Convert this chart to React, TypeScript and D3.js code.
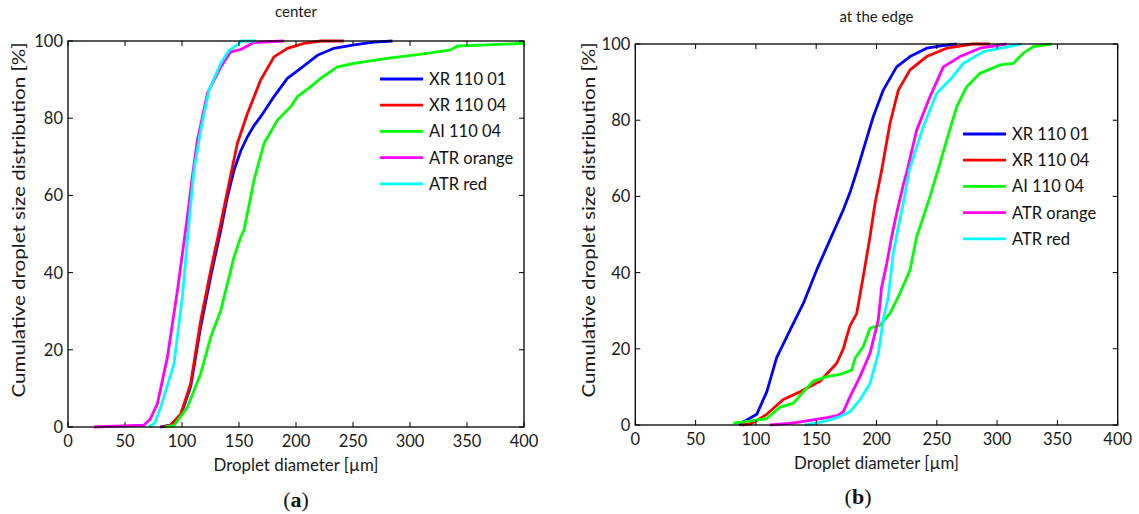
import React from "react";
import * as d3 from "d3";

type Pt = [number, number];

// ---------- data: panel (a) center ----------
const centerXR11001: Pt[] = [[81,0],[90,0.5],[99,3],[107.6,10.5],[116.4,26],[125.2,39],[134,51],[139.8,59.6],[145.6,66.5],[151.5,71.5],[157.4,75.2],[163,78],[169,80.4],[180.7,85.6],[192.4,90.3],[204.1,92.9],[218.8,96.3],[233.3,98.1],[250.9,99],[268.4,99.7],[284.6,100]];
const centerXR11004: Pt[] = [[82,0],[90,0.5],[98.9,3.4],[107.6,11.2],[116.4,27.6],[125.2,40.6],[134,52.7],[141.2,63.1],[148.6,73.5],[157.4,81.2],[169,89.9],[180.7,95.9],[192.4,98.1],[207,99.4],[221.7,100],[242,100]];
const centerAI11004: Pt[] = [[85,0],[93,0.4],[104.7,5.1],[116.4,13.8],[125.2,23.3],[134,30.2],[139.8,37.1],[145.6,44],[151.5,49.2],[154.4,51],[163.2,64],[172,73.5],[183.7,79.5],[195.4,83],[201.2,85.6],[213,88.2],[221.7,90.3],[236.3,93.3],[250.9,94.2],[280,95.5],[315,96.8],[335.7,97.7],[341.6,98.7],[367.9,99],[400,99.4]];
const centerATROrange: Pt[] = [[22.8,0],[66.7,0.5],[72,2],[78.4,6],[87.2,18.1],[96,35.4],[104.7,54.4],[109,64.8],[113.5,74.3],[122.3,86.4],[134,93.3],[142.7,97.2],[151.5,97.8],[163,99.6],[175,99.8],[189.5,100]];
const centerATRRed: Pt[] = [[71,0],[76,1],[81.3,5.1],[93,16.4],[100.3,33.7],[106,52.7],[110.5,66.5],[116.4,76.9],[123.7,87.3],[134,94.2],[141,97.5],[148.6,99],[152,100],[165,100]];

// ---------- data: panel (b) at the edge ----------
const edgeXR11001: Pt[] = [[86,0],[89.6,0.8],[100.7,2.8],[109,8.7],[117.2,17.7],[128.3,24.9],[139.3,31.9],[150.4,40.7],[161.4,48.6],[172.5,56.5],[178,61],[183.6,66.5],[189,72.2],[197.3,80.9],[205.6,87.9],[216.7,94],[227.8,96.7],[241.6,98.9],[255,99.6],[266.5,100]];
const edgeXR11004: Pt[] = [[88,0],[95,0.3],[100,1],[109,2.8],[122.7,6.7],[136.6,8.7],[150.4,11],[153.2,11.5],[167,16.2],[172.5,20],[175.3,23.2],[178,26],[183.6,29.3],[189,38.9],[194.6,49.4],[198.8,58.2],[204.3,66.9],[211.2,79.2],[218.1,87.9],[227.8,93.2],[241.6,96.7],[258.2,98.9],[280,100],[294,100]];
const edgeAI11004: Pt[] = [[81.3,0.5],[95,1],[109,1.7],[120,4.7],[131,5.7],[139.3,8.7],[147.6,11.5],[158.7,12.7],[169.7,13.3],[179.4,14.4],[182.2,17.5],[189,20.6],[194.6,25.4],[202.9,26.2],[211.2,29.3],[219.5,34.6],[227.8,40.7],[233.3,49.4],[236.1,52],[244.4,60],[252.7,68.7],[258.2,74.8],[266.5,83.5],[274.8,88.8],[285.8,92.3],[302.4,94.5],[313.4,94.9],[321.7,97.6],[330,99.3],[345.3,100]];
const edgeATROrange: Pt[] = [[111.7,0],[130,0.5],[145,1.2],[160,2],[168,2.5],[172.5,3.5],[178,7.4],[186.3,12.7],[194.6,18.8],[201.5,27.6],[204.3,36.3],[208.5,42.4],[212.6,49.4],[216.7,55.6],[222.2,63],[225.5,66.9],[233.3,77.4],[244.4,86.2],[255.4,94],[269.2,96.7],[285.8,98.9],[308,100]];
const edgeATRRed: Pt[] = [[140.7,0],[150,0.5],[160,1.2],[169.7,2.2],[178,3.5],[186.3,6.6],[194.6,10.9],[201.5,18.8],[205.6,27.6],[209.8,33.7],[213.9,45.1],[218.1,52],[222.2,58.2],[227.2,66.9],[238.8,78.3],[249.9,87.1],[261,90.6],[272,94.9],[288.6,98],[320.4,100]];

const seriesNames = ["XR 110 01", "XR 110 04", "AI 110 04", "ATR orange", "ATR red"];
const seriesColors = ["#0000ff", "#ff0000", "#00ff00", "#ff00ff", "#00ffff"];
const xTicks = [0, 50, 100, 150, 200, 250, 300, 350, 400];
const yTicks = [0, 20, 40, 60, 80, 100];
const xLabel = "Droplet diameter [\u00b5m]";
const yLabel = "Cumulative droplet size distribution [%]";

const centerSeries = [centerXR11001, centerXR11004, centerAI11004, centerATROrange, centerATRRed];
const edgeSeries = [edgeXR11001, edgeXR11004, edgeAI11004, edgeATROrange, edgeATRRed];

const FONT = "Lato, 'Open Sans', sans-serif";

interface PanelProps {
  series: Pt[][];
  title: string;
  tag: string;
  left: number; right: number; top: number; bottom: number;
  titleY: number;
  legendX: number; legendY: number;
  yLabelX: number; yLabelY: number;
  tagX: number; tagY: number;
}

function Panel(p: PanelProps) {
  const x = d3.scaleLinear().domain([0, 400]).range([p.left, p.right]);
  const y = d3.scaleLinear().domain([0, 100]).range([p.bottom, p.top]);
  const line = d3.line<Pt>().x(d => x(d[0])).y(d => y(d[1]));
  const tl = 5;
  const cx = (p.left + p.right) / 2;
  return (
    <g>
      <rect x={p.left} y={p.top} width={p.right - p.left} height={p.bottom - p.top} fill="#fff" />
      {p.series.map((s, i) => (
        <path key={i} d={line(s) || ""} fill="none" stroke={seriesColors[i]} strokeWidth={2.8} strokeLinejoin="round" />
      ))}
      <rect x={p.left} y={p.top} width={p.right - p.left} height={p.bottom - p.top} fill="none" stroke="#000" strokeWidth={1.3} />
      {xTicks.map(t => (
        <g key={"x" + t}>
          <line x1={x(t)} x2={x(t)} y1={p.bottom} y2={p.bottom - tl} stroke="#000" strokeWidth={1} />
          <line x1={x(t)} x2={x(t)} y1={p.top} y2={p.top + tl} stroke="#000" strokeWidth={1} />
          <text x={x(t)} y={p.bottom + 20} textAnchor="middle" fontSize={16.5} fontFamily={FONT} fill="#1a1a1a">{t}</text>
        </g>
      ))}
      {yTicks.map(t => (
        <g key={"y" + t}>
          <line x1={p.left} x2={p.left + tl} y1={y(t)} y2={y(t)} stroke="#000" strokeWidth={1} />
          <line x1={p.right} x2={p.right - tl} y1={y(t)} y2={y(t)} stroke="#000" strokeWidth={1} />
          <text x={p.left - 5} y={y(t) + 6} textAnchor="end" fontSize={16.5} fontFamily={FONT} fill="#1a1a1a">{t}</text>
        </g>
      ))}
      <text x={cx} y={p.titleY} textAnchor="middle" fontSize={15} fontFamily={FONT} fill="#1a1a1a">{p.title}</text>
      <text x={cx} y={p.bottom + 44} textAnchor="middle" fontSize={16.5} fontFamily={FONT} fill="#1a1a1a" textLength={165} lengthAdjust="spacingAndGlyphs">{xLabel}</text>
      <text transform={`translate(${p.yLabelX},${p.yLabelY}) rotate(-90)`} textAnchor="middle" fontSize={16.5} fontFamily={FONT} fill="#1a1a1a" textLength={355} lengthAdjust="spacingAndGlyphs">{yLabel}</text>
      {seriesNames.map((n, i) => (
        <g key={n}>
          <line x1={p.legendX} x2={p.legendX + 43} y1={p.legendY + i * 26.2} y2={p.legendY + i * 26.2} stroke={seriesColors[i]} strokeWidth={2.8} />
          <text x={p.legendX + 49} y={p.legendY + i * 26.2 + 6} fontSize={16.5} fontFamily={FONT} fill="#111">{n}</text>
        </g>
      ))}
      <text x={p.tagX} y={p.tagY} textAnchor="middle" fontSize={22} fontFamily="'Liberation Serif', 'DejaVu Serif', serif" fill="#111">
        (<tspan fontWeight="bold">{p.tag}</tspan>)
      </text>
    </g>
  );
}

export default function App() {
  return (
    <svg width={1139} height={514} style={{ position: "absolute", left: 0, top: 0, background: "#fff" }}>
      <rect width={1139} height={514} fill="#fff" />
      <Panel series={centerSeries} title="center" tag="a"
        left={68} right={524} top={41} bottom={427} titleY={17}
        legendX={380} legendY={79} yLabelX={25} yLabelY={220} tagX={296} tagY={507} />
      <Panel series={edgeSeries} title="at the edge" tag="b"
        left={635.3} right={1117.7} top={44} bottom={425} titleY={22}
        legendX={963} legendY={134} yLabelX={595} yLabelY={220} tagX={858} tagY={504} />
    </svg>
  );
}
